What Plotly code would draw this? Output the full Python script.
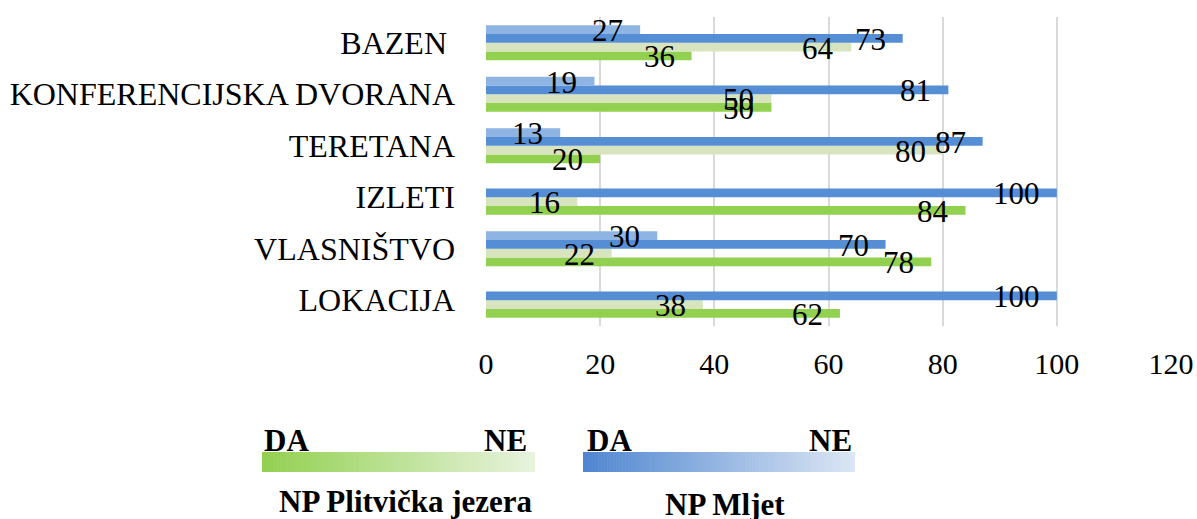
import plotly.graph_objects as go

# ---- data (categories listed bottom-to-top as Plotly draws them) ----
categories = ["LOKACIJA", "VLASNIŠTVO", "IZLETI", "TERETANA",
              "KONFERENCIJSKA DVORANA", "BAZEN\u00a0"]
plit_da = [62, 78, 84, 20, 50, 36]
plit_ne = [38, 22, 16, 80, 50, 64]
mljet_da = [100, 70, 100, 87, 81, 73]
mljet_ne = [0, 30, 0, 13, 19, 27]
x_ticks = [0, 20, 40, 60, 80, 100, 120]

W, H = 1197, 519
ML, MR, MT, MB = 486, 26, 17, 193
PW, PH = W - ML - MR, H - MT - MB
FONT = "Liberation Serif, Times New Roman, serif"

series = [
    ("NP Plitvička jezera DA", plit_da, "#92D050"),
    ("NP Plitvička jezera NE", plit_ne, "#D7E4BD"),
    ("NP Mljet DA", mljet_da, "#558ED5"),
    ("NP Mljet NE", mljet_ne, "#8EB4E3"),
]
BARGAP = 0.32
nser = len(series)
bw = (1 - BARGAP) / nser

fig = go.Figure()
annotations = []
for k, (name, vals, col) in enumerate(series):
    fig.add_trace(go.Bar(y=categories, x=vals, orientation="h", name=name,
                         marker=dict(color=col, line=dict(width=0)),
                         showlegend=False))
    off = (k - (nser - 1) / 2) * bw
    for i, v in enumerate(vals):
        if v == 0:
            continue
        annotations.append(dict(x=v, y=i + off, xref="x", yref="y", text=str(v),
                                showarrow=False, xanchor="right", yanchor="middle",
                                xshift=-15, yshift=-1,
                                font=dict(family=FONT, size=31, color="black")))


def px(xp):
    return (xp - ML) / PW


def py(yp):
    return (H - MB - yp) / PH


shapes = []


def gradient(x0, x1, y0, y1, c0, c1, n=90):
    for j in range(n):
        t = j / (n - 1)
        c = tuple(round(a + (b - a) * t) for a, b in zip(c0, c1))
        xa = x0 + (x1 - x0) * j / n
        xb = x0 + (x1 - x0) * (j + 1) / n + 0.6
        shapes.append(dict(type="rect", xref="paper", yref="paper",
                           x0=px(xa), x1=px(min(xb, x1)), y0=py(y1), y1=py(y0),
                           line=dict(width=0), fillcolor="rgb(%d,%d,%d)" % c, layer="above"))


gradient(262, 535, 452, 472, (146, 208, 80), (232, 243, 222))
gradient(583, 855, 452, 472, (79, 134, 208), (220, 230, 244))


def txt(x, y, s, anchor="center"):
    annotations.append(dict(x=px(x), y=py(y), xref="paper", yref="paper", text=s,
                            showarrow=False, xanchor=anchor, yanchor="middle",
                            font=dict(family=FONT, size=31, color="black")))


txt(262, 440, "<b>DA</b>", "left")
txt(529, 440, "<b>NE</b>", "right")
txt(585, 440, "<b>DA</b>", "left")
txt(854, 440, "<b>NE</b>", "right")
txt(406, 502, "<b>NP Plitvička jezera</b>")
txt(725, 504, "<b>NP Mljet</b>")

fig.update_layout(
    width=W, height=H, barmode="group", bargap=BARGAP, bargroupgap=0,
    margin=dict(l=ML, r=MR, t=MT, b=MB, autoexpand=False),
    paper_bgcolor="white", plot_bgcolor="white",
    font=dict(family=FONT, size=30, color="black"),
    annotations=annotations, shapes=shapes,
    xaxis=dict(range=[0, 120], tickvals=x_ticks, showgrid=True, gridcolor="#D9D9D9",
               gridwidth=1.5, zeroline=False, showline=False, ticks="",
               ticklabelstandoff=17, tickfont=dict(size=30), automargin=False),
    yaxis=dict(range=[-0.5, len(categories) - 0.5], showgrid=False, zeroline=False,
               showline=False, ticks="", ticklabelstandoff=30,
               tickfont=dict(size=32), automargin=False),
)
fig.write_html("out.html", config={"displayModeBar": False},
               post_script="document.body.style.margin='0px';")
